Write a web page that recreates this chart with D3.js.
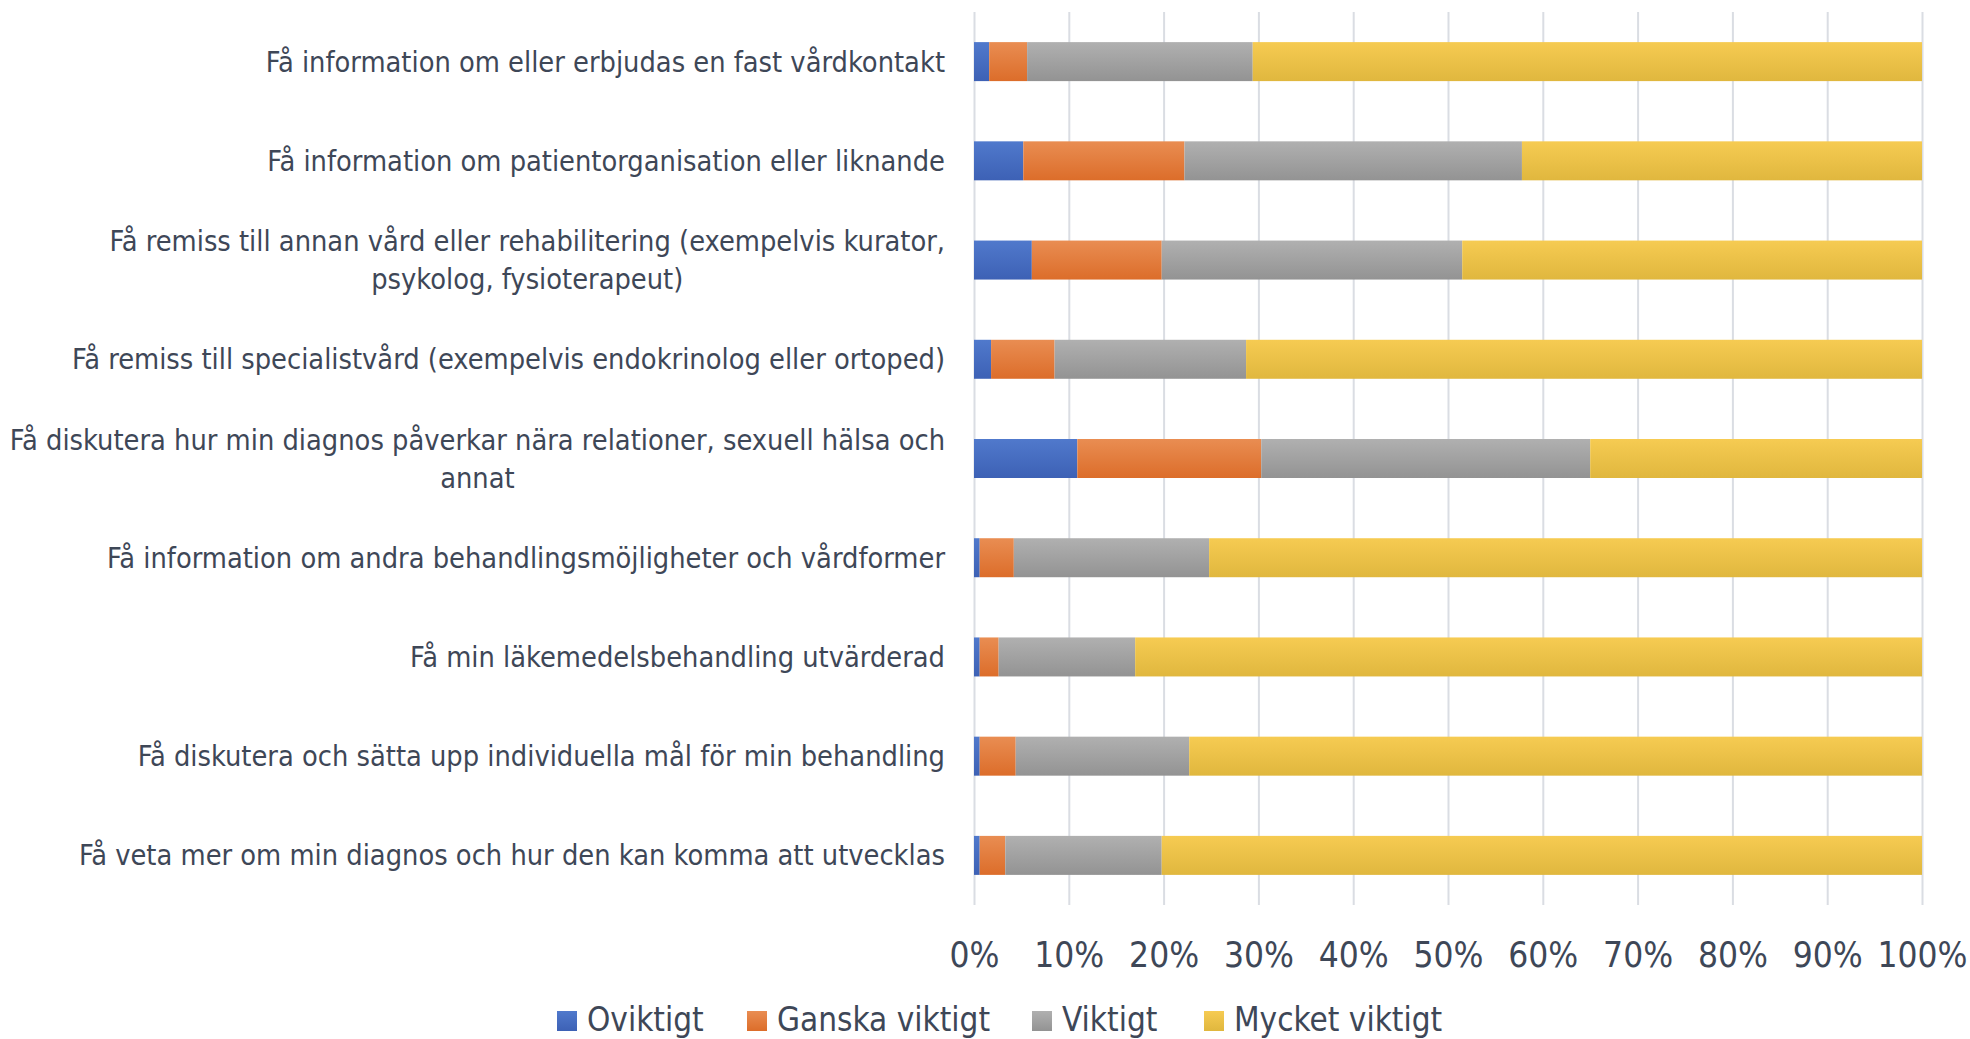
<!DOCTYPE html>
<html>
<head>
<meta charset="utf-8">
<script src="https://cdn.jsdelivr.net/npm/d3@7"></script>
<style>
  html, body { margin: 0; padding: 0; background: #ffffff; }
  svg { display: block; }
  text { font-family: "Liberation Sans Narrow", "DejaVu Sans Condensed", "Open Sans", sans-serif; fill: #3e4757; }
</style>
</head>
<body>
<svg id="chart" width="1970" height="1039"></svg>
<script>
const categories = [
  ["Få information om eller erbjudas en fast vårdkontakt"],
  ["Få information om patientorganisation eller liknande"],
  ["Få remiss till annan vård eller rehabilitering (exempelvis kurator,", "psykolog, fysioterapeut)"],
  ["Få remiss till specialistvård (exempelvis endokrinolog eller ortoped)"],
  ["Få diskutera hur min diagnos påverkar nära relationer, sexuell hälsa och", "annat"],
  ["Få information om andra behandlingsmöjligheter och vårdformer"],
  ["Få min läkemedelsbehandling utvärderad"],
  ["Få diskutera och sätta upp individuella mål för min behandling"],
  ["Få veta mer om min diagnos och hur den kan komma att utvecklas"]
];
const seriesNames = ["Oviktigt", "Ganska viktigt", "Viktigt", "Mycket viktigt"];
const oviktigt      = [1.6, 5.2, 6.1, 1.8, 10.9, 0.6, 0.6, 0.6, 0.6];
const ganskaViktigt = [4.0, 17.0, 13.7, 6.7, 19.4, 3.6, 2.0, 3.8, 2.7];
const viktigt       = [23.8, 35.6, 31.7, 20.2, 34.7, 20.6, 14.4, 18.3, 16.5];
const mycketViktigt = [70.6, 42.2, 48.5, 71.3, 35.0, 75.2, 83.0, 77.3, 80.2];
const tickValues = [0, 10, 20, 30, 40, 50, 60, 70, 80, 90, 100];

const colorsTop = ["#5079cc", "#e98d52", "#b0b0b0", "#f6cb52"];
const colorsBottom = ["#3d61b5", "#dc6d2a", "#939393", "#e0b73e"];

const svg = d3.select("#chart");
const plot = { left: 974, right: 1922, top: 12, bottom: 905 };

const rows = categories.map((c, i) => ({
  key: i,
  lines: c,
  "Oviktigt": oviktigt[i],
  "Ganska viktigt": ganskaViktigt[i],
  "Viktigt": viktigt[i],
  "Mycket viktigt": mycketViktigt[i]
}));

const x = d3.scaleLinear().domain([0, 100]).range([plot.left, plot.right]);
const y = d3.scaleBand().domain(rows.map(r => r.key)).range([plot.top, plot.bottom])
  .paddingInner(0.607).paddingOuter(0.3035);

// gradients
const defs = svg.append("defs");
seriesNames.forEach((s, i) => {
  const g = defs.append("linearGradient").attr("id", "grad" + i)
    .attr("x1", 0).attr("y1", 0).attr("x2", 0).attr("y2", 1);
  g.append("stop").attr("offset", "0%").attr("stop-color", colorsTop[i]);
  g.append("stop").attr("offset", "100%").attr("stop-color", colorsBottom[i]);
});

// gridlines
const grid = d3.axisBottom(x).tickValues(tickValues).tickSize(-(plot.bottom - plot.top)).tickFormat("");
svg.append("g").attr("transform", `translate(0,${plot.bottom})`).call(grid)
  .call(g => g.select(".domain").remove())
  .call(g => g.selectAll("line").attr("stroke", "#dadde3").attr("stroke-width", 2));

// stacked bars
const stack = d3.stack().keys(seriesNames);
const stacked = stack(rows);
svg.append("g").selectAll("g").data(stacked).join("g")
  .attr("fill", (d, i) => `url(#grad${i})`)
  .selectAll("rect").data(d => d).join("rect")
  .attr("x", d => x(d[0]))
  .attr("width", d => x(d[1]) - x(d[0]))
  .attr("y", d => y(d.data.key))
  .attr("height", y.bandwidth());

// x axis labels
const xAxis = d3.axisBottom(x).tickValues(tickValues).tickSize(0).tickPadding(0).tickFormat(d => d + "%");
svg.append("g").attr("transform", `translate(0,955)`).call(xAxis)
  .call(g => g.select(".domain").remove())
  .call(g => g.selectAll("text").attr("dy", "0.35em").attr("font-size", 35)
    .style("font-family", '"Liberation Sans Narrow", "DejaVu Sans Condensed", "Open Sans", sans-serif')
    .style("fill", "#3e4757"));

// category labels
const lineH = 38;
const labelSize = 28.7;
const labelG = svg.append("g");
rows.forEach(r => {
  const cy = y(r.key) + y.bandwidth() / 2;
  const n = r.lines.length;
  const t = labelG.append("text").attr("font-size", labelSize).attr("text-anchor", "end")
    .attr("x", 945).attr("y", cy - (n - 1) * lineH / 2).attr("dy", "0.35em")
    .text(r.lines[0]);
  if (n > 1) {
    const w = t.node().getComputedTextLength();
    const center = 945 - w / 2;
    for (let k = 1; k < n; k++) {
      labelG.append("text").attr("font-size", labelSize).attr("text-anchor", "middle")
        .attr("x", center).attr("y", cy - (n - 1) * lineH / 2 + k * lineH).attr("dy", "0.35em")
        .text(r.lines[k]);
    }
  }
});

// legend
const legendX = [557, 747, 1032, 1204];
const legend = svg.append("g");
seriesNames.forEach((s, i) => {
  legend.append("rect").attr("x", legendX[i]).attr("y", 1011).attr("width", 20).attr("height", 20)
    .attr("fill", `url(#grad${i})`);
  legend.append("text").attr("x", legendX[i] + 30).attr("y", 1031).attr("font-size", 33).text(s);
});
</script>
</body>
</html>
